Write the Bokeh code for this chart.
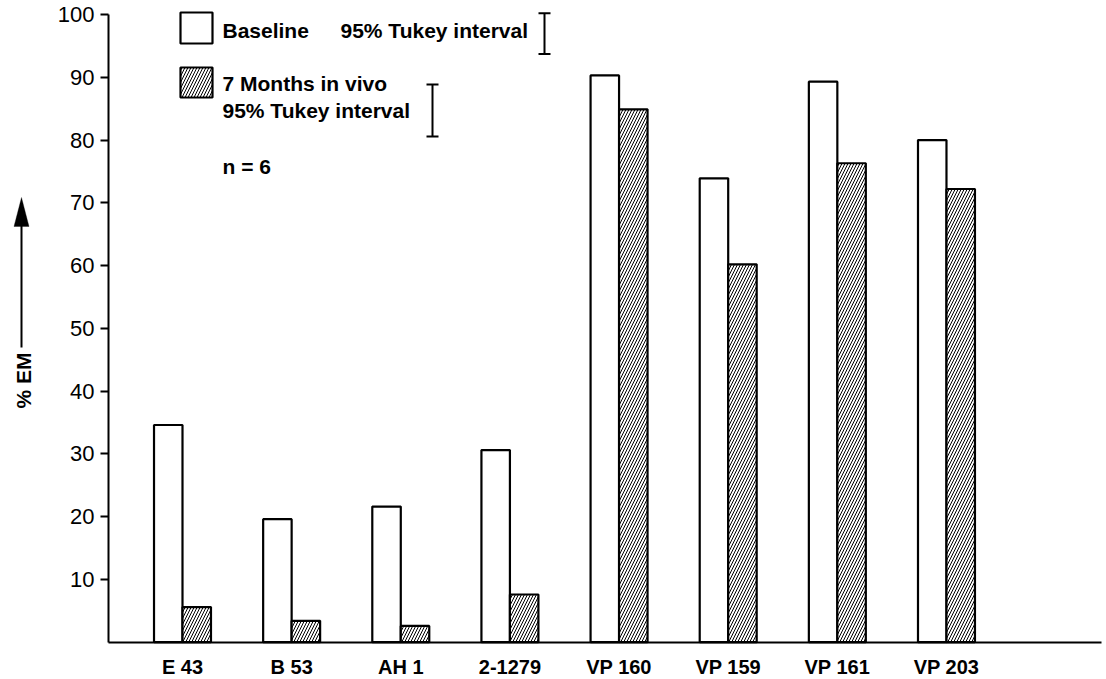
import math
from bokeh.plotting import figure
from bokeh.models import FixedTicker, Label, PolyAnnotation, ColumnDataSource, Range1d, Arrow
from bokeh.embed import file_html
from bokeh.resources import INLINE

# ---- data ----
categories = ["E 43", "B 53", "AH 1", "2-1279", "VP 160", "VP 159", "VP 161", "VP 203"]
baseline = [34.6, 19.6, 21.6, 30.6, 90.3, 73.9, 89.3, 80.0]
months7 = [5.6, 3.4, 2.6, 7.6, 84.9, 60.2, 76.3, 72.2]
y_ticks = [10, 20, 30, 40, 50, 60, 70, 80, 90, 100]
tukey_baseline = 6.5
tukey_7mo = 8.3
n_samples = 6

FONT = "Liberation Sans"

# ---- layout helpers (page pixel -> data) ----
W, H = 1104, 677
XC0, XS = 72.86, 109.14     # page x of category index 0, px per index
YZ, YS = 641.7, 6.277       # page y of value 0, px per % unit
def px(xp):
    return (xp - XC0) / XS
def py(yp):
    return (YZ - yp) / YS

p = figure(width=W, height=H, x_range=Range1d(px(0), px(W)), y_range=Range1d(py(H), py(0)),
           output_backend="svg", toolbar_location=None,
           min_border_left=0, min_border_right=0, min_border_top=0, min_border_bottom=0)
p.grid.visible = False
p.outline_line_color = None
p.background_fill_color = "white"

pos = list(range(1, len(categories) + 1))
bw = 0.261
src = ColumnDataSource(dict(
    xb=[x - bw / 2 for x in pos], xm=[x + bw / 2 for x in pos],
    base=baseline, m7=months7))
p.vbar(x="xb", top="base", width=bw, bottom=0, fill_color="white",
       line_color="black", line_width=2.2, source=src)
p.vbar(x="xm", top="m7", width=bw, bottom=0, fill_color="white",
       line_color="black", line_width=2.2, hatch_pattern="/", hatch_color="black",
       hatch_scale=6, hatch_weight=1, source=src)

# ---- axes ----
xa = p.xaxis[0]
xa.ticker = FixedTicker(ticks=pos)
xa.major_label_overrides = {i: c for i, c in zip(pos, categories)}
xa.fixed_location = 0
xa.bounds = (px(108), px(1101))
xa.major_tick_in = 0
xa.major_tick_out = 0
xa.minor_tick_in = 0
xa.minor_tick_out = 0
xa.axis_line_width = 2
xa.axis_line_color = "black"
xa.major_label_text_font = FONT
xa.major_label_text_font_style = "bold"
xa.major_label_text_font_size = "20px"
xa.major_label_text_color = "black"
xa.major_label_standoff = 14

ya = p.yaxis[0]
ya.ticker = FixedTicker(ticks=y_ticks)
ya.fixed_location = px(108)
ya.bounds = (0, 100)
ya.major_tick_in = 0
ya.major_tick_out = 8
ya.minor_tick_in = 0
ya.minor_tick_out = 0
ya.axis_line_width = 2
ya.major_tick_line_width = 2
ya.axis_line_color = "black"
ya.major_tick_line_color = "black"
ya.major_label_text_font = FONT
ya.major_label_text_font_size = "22px"
ya.major_label_text_color = "black"
ya.major_label_standoff = 6

# ---- y label with arrow ----
p.add_layout(Label(x=px(23), y=py(380), text="% EM", angle=math.pi / 2,
                   text_align="center", text_baseline="middle",
                   text_font=FONT, text_font_style="bold", text_font_size="21px",
                   text_color="black"))
p.add_layout(Arrow(end=None, x_start=px(21), y_start=py(347), x_end=px(21), y_end=py(224),
                   line_width=2, line_color="black"))
p.add_layout(PolyAnnotation(xs=[px(13.5), px(21), px(28.5)], ys=[py(226), py(197), py(226)],
                            fill_color="black", fill_alpha=1.0, line_color="black", line_width=1))

# ---- legend ----
p.quad(left=[px(180)], right=[px(212)], top=[py(12)], bottom=[py(43)],
       fill_color="white", line_color="black", line_width=2.2)
p.quad(left=[px(180)], right=[px(212)], top=[py(67)], bottom=[py(97)],
       fill_color="white", line_color="black", line_width=2.2, hatch_pattern="/",
       hatch_color="black", hatch_scale=6, hatch_weight=1)

def lab(xp, yp, t):
    p.add_layout(Label(x=px(xp), y=py(yp), text=t, text_align="left", text_baseline="middle",
                       text_font=FONT, text_font_style="bold", text_font_size="21px",
                       text_color="black"))

lab(222, 29.5, "Baseline")
lab(340, 29.5, "95% Tukey interval")
lab(222, 83, "7 Months in vivo")
lab(222, 109.5, "95% Tukey interval")
lab(222, 166, "n = %d" % n_samples)

# Tukey interval brackets (length = interval in % EM)
def bracket(xp, top_val, length):
    xc = px(xp)
    half = px(xp + 6) - xc
    ys_top = top_val
    ys_bot = top_val - length
    p.segment(x0=[xc, xc - half, xc - half], y0=[ys_top, ys_top, ys_bot],
              x1=[xc, xc + half, xc + half], y1=[ys_bot, ys_top, ys_bot],
              line_color="black", line_width=2)

bracket(544, py(12.7), tukey_baseline)
bracket(432, py(84), tukey_7mo)

open("out.html", "w").write(file_html(p, INLINE))
